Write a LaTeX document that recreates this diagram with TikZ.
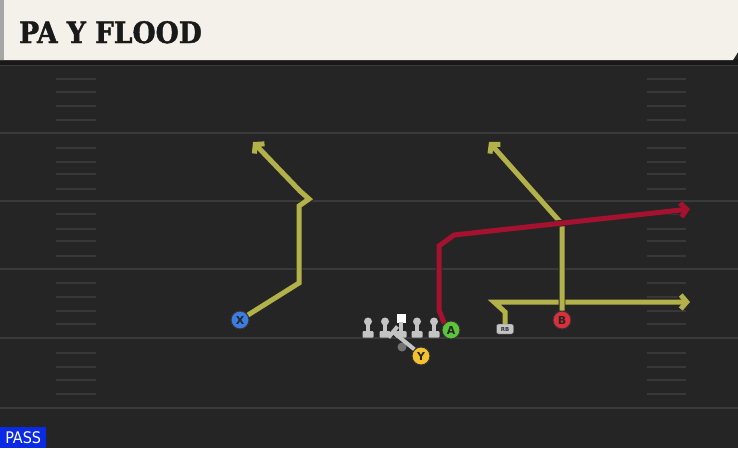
\documentclass[tikz,border=0pt]{standalone}
\usepackage{fontspec}
\usetikzlibrary{arrows.meta}
\newfontfamily\titlefont{DejaVu Serif Condensed}[BoldFeatures={FakeBold=1.5}]
\newfontfamily\lblfont{DejaVu Sans}
\newfontfamily\passfont{DejaVu Sans Condensed}
\definecolor{field}{HTML}{252525}
\definecolor{yardline}{HTML}{3A3A3A}
\definecolor{hashc}{HTML}{383838}
\definecolor{headerbg}{HTML}{F4F1EA}
\definecolor{routey}{HTML}{B3B24A}
\definecolor{router}{HTML}{A4122F}
\definecolor{xblue}{HTML}{3B7DE0}
\definecolor{yyel}{HTML}{F2C230}
\definecolor{agreen}{HTML}{5CC43A}
\definecolor{bred}{HTML}{D9303A}
\definecolor{olgray}{HTML}{C4C4C4}
\definecolor{passblue}{HTML}{0A2AE6}
\tikzset{
  player/.style={circle, draw=black!80, line width=1pt, minimum size=18pt, inner sep=0pt,
     font=\lblfont\bfseries\fontsize{11}{11}\selectfont, text=black!85},
  routebase/.style={line width=5pt, -{Straight Barb[length=6pt,width=14pt]},
     preaction={draw=black!85, line width=6.6pt}},
  routeyel/.style={routebase, draw=routey},
  routered/.style={routebase, draw=router},
  hashmark/.style={draw=hashc, line width=1.6pt},
  yline/.style={draw=yardline, line width=2pt},
}
\begin{document}
\begin{tikzpicture}[x=1pt,y=-1pt]
\useasboundingbox (0,0) rectangle (738,448);
% field
\fill[field] (0,0) rectangle (738,448);
% yard lines
\foreach \yy in {65,133,201,269,338,408} \draw[yline] (0,\yy) -- (738,\yy);
% hash marks
\foreach \yy in {79,92,106,120,148,162,174,189,214,229,241,256,283,297,311,324,353,367,380,394}{
  \draw[hashmark] (56,\yy) -- (96,\yy);
  \draw[hashmark] (647,\yy) -- (686,\yy);
}
% header
\fill[black!90] (0,59) rectangle (738,65);
\fill[headerbg] (0,0) -- (738,0) -- (738,52) -- (733,60) -- (0,60) -- cycle;
\fill[black!35] (0,0) rectangle (4,60);
\node[anchor=base west, inner sep=0pt, font=\titlefont\bfseries\fontsize{29.5}{29.5}\selectfont, text=black!90] (title) at (19,43) {PA Y FLOOD};
% PASS label
\node[anchor=south west, fill=passblue, text=white, inner sep=0pt, minimum width=46pt, minimum height=21pt,
  font=\passfont\fontsize{16}{16}\selectfont] (pass) at (0,448) {PASS};

% players
\node[player, fill=xblue] (X) at (240,320) {X};
\node[player, fill=yyel] (Y) at (421,356) {Y};
\node[player, fill=agreen] (A) at (451,330) {A};
\node[player, fill=bred] (B) at (562,320) {B};
\node[draw=black!70, fill=olgray, rounded corners=2pt, minimum width=17pt, minimum height=10pt, inner sep=0pt,
  font=\lblfont\bfseries\fontsize{5.5}{5.5}\selectfont, text=black!80] (RB) at (505,329) {RB};

% offensive line
\foreach \xx in {368,385,417,434}{
  \fill[olgray] (\xx,321.5) circle (4);
  \fill[olgray] (\xx-2,323) rectangle (\xx+2,332);
  \fill[olgray, rounded corners=1pt] (\xx-5.5,331) rectangle (\xx+5.5,337.5);
}
\fill[white] (396.5,313.5) rectangle (405.5,322.5);
\fill[olgray] (399,322) rectangle (403,332);
\fill[olgray, rounded corners=1pt] (395.5,331) rectangle (406.5,337.5);

% Y block
\fill[black!55] (402,347) circle (4.5);
\draw[olgray, line width=4pt] (Y.north west) -- (393,332);
\draw[olgray, line width=4pt] (388.5,337.5) -- (397.5,326.5);

% routes
\coordinate (x1) at (299,283);
\coordinate (x2) at (299,206);
\coordinate (x3) at (309,199);
\coordinate (x4) at (300,191);
\coordinate (xend) at (253,142);
\draw[routeyel] (X) -- (x1) -- (x2) -- (x3) -- (x4) -- (xend);

\coordinate (r1) at (505,312);
\coordinate (r2) at (494,302);
\coordinate (rend) at (690,302);
\draw[routeyel] (RB.north) -- (r1) -- (r2) -- (rend);

\coordinate (b1) at (562,224);
\coordinate (bend) at (489,142);
\draw[routeyel] (B) -- (b1) -- (bend);

\coordinate (a1) at (439,310);
\coordinate (a2) at (439,246);
\coordinate (a3) at (454,235);
\coordinate (aend) at (690,209);
\draw[routered] (A.north west) -- (a1) -- (a2) -- (a3) -- (aend);
\end{tikzpicture}
\end{document}
